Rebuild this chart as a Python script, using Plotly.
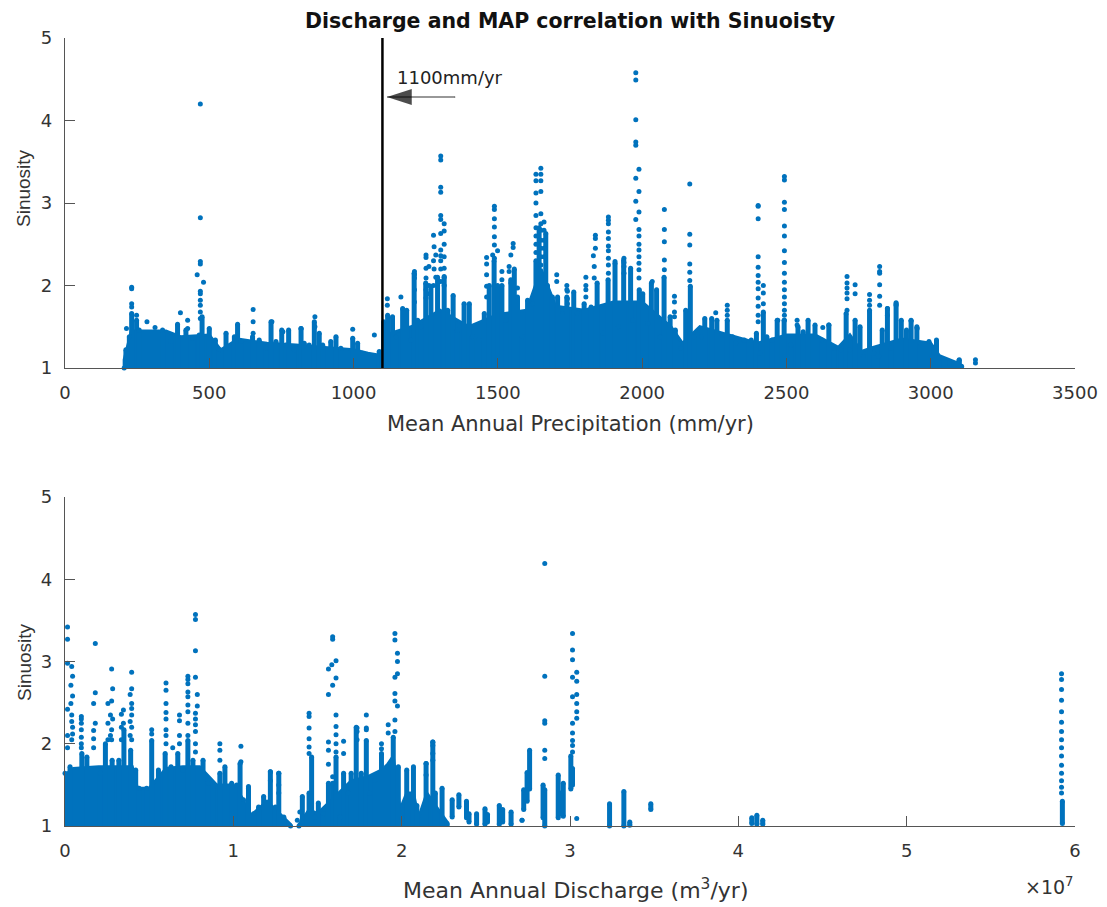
import plotly.graph_objects as go

BLUE = "#0072BD"
AXC = "#555555"
TXT = "#333333"
HELV = "Liberation Sans, Arial, sans-serif"
WIDE = "DejaVu Sans, sans-serif"

# ---------- upper panel: precipitation ----------
map_env_x = [205,211,223,231,248,257,338,367,390,419,442,465,475,500,521,535,558,587,598,610,650,673,696,714,731,751,766,775,794,818,829,846,864,881,893,921,939,956,997,1014,1031,1089,1099,
             1104,1118,1135,1147,1170,1184,1199,1210,1222,1233,1250,1268,1291,1314,1326,1345,1360,1383,1401,1412,1435,1453,1470,1487,1499,1514,1528,1545,1557,1568,1585,1603,1620,1632,1643,1666,1672,1689,1707,1724,1739,1763,1775,1799,1823,1844,1864,1882,1906,1918,1936,1960,1968,1990,2002,2020,2032,2050,2062,2076,2097,2115,2133,2151,2167,2179,2205,2217,2241,2259,2277,2295,2313,2324,2354,2378,2396,2408,2420,2432,2450,2468,2492,2516,2540,2558,2575,2599,2623,2647,2665,2689,2707,2719,2738,2755,2767,2788,2802,2820,2832,2850,2862,2880,2898,2916,2932,2952,2964,2994,3006,3020,3029,3065,3099,3107]
map_env_y = [1.0,1.22,1.38,1.66,1.58,1.46,1.46,1.32,1.53,1.46,1.36,1.4,1.62,1.48,1.34,1.22,1.42,1.38,1.53,1.32,1.38,1.34,1.24,1.56,1.32,1.46,1.28,1.46,1.22,1.48,1.3,1.28,1.56,1.42,1.28,1.32,1.38,1.24,1.36,1.3,1.18,1.2,1.16,
             1.56,1.64,1.62,1.38,1.72,1.7,1.34,2.15,1.58,1.5,2.03,1.99,2.1,2.1,1.7,1.88,1.46,1.78,1.78,1.38,1.34,1.66,2.0,2.3,2.0,2.0,1.58,2.07,2.2,1.86,1.38,1.82,1.78,2.3,2.7,2.63,2.0,1.86,1.86,1.66,1.86,1.92,1.66,1.78,1.74,2.03,1.42,2.07,2.27,1.5,2.31,2.21,1.58,1.95,1.9,1.54,2.03,1.95,1.38,2.1,1.62,1.46,1.24,1.7,1.99,1.38,1.38,1.6,1.6,1.58,1.4,1.58,1.38,1.3,1.34,1.34,1.42,1.18,1.68,1.38,1.34,1.58,1.58,1.28,1.5,1.44,1.58,1.52,1.34,1.52,1.24,1.22,1.66,1.22,1.58,1.5,1.14,1.7,1.18,1.14,1.46,1.72,1.24,1.78,1.58,1.46,1.58,1.5,1.3,1.32,1.14,1.34,1.12,1.06,1.1,1.02]

map_floor_x = [205,230,350,400,500,540,600,700,800,900,1000,1050,1100,1110,1200,1300,1400,1500,1600,1650,1700,1800,1900,2000,2100,2140,2200,2300,2400,2500,2600,2680,2720,2760,2800,2900,3000,3030,3100]
map_floor_y = [1.1,1.45,1.45,1.38,1.4,1.22,1.35,1.3,1.28,1.25,1.22,1.18,1.15,1.4,1.5,1.7,1.5,1.65,1.7,2.2,1.75,1.7,1.8,1.8,1.5,1.3,1.5,1.4,1.3,1.4,1.4,1.25,1.4,1.2,1.25,1.35,1.3,1.15,1.05]

map_spikes = [
    (469,[4.2,2.82,2.29,2.26,1.93,1.9,1.82,1.76,1.68,1.6]),(458,[2.13]),(480,[2.04]),
    (231,[1.98,1.96,1.78,1.74]),(248,[1.64]),(213,[1.48]),(284,[1.56]),(312,[1.49]),(400,[1.67]),(425,[1.58,1.48]),
    (652,[1.71,1.56,1.42]),(717,[1.56]),(755,[1.44]),(818,[1.48]),(866,[1.62,1.5]),(997,[1.47]),(1072,[1.4]),
    (1117,[1.84,1.76]),(1164,[1.86]),(1211,[2.17,2.13,2.09,1.95,1.8]),
    (1302,[3.57,3.52,3.19,3.13,2.85,2.8,2.63,2.43,2.36,2.3,2.2,2.05]),(1314,[2.75,2.66,2.5,2.35,2.21,2.11,2.0]),
    (1277,[2.61,2.3,2.0]),(1279,[2.47,2.2]),(1251,[2.37,2.34,2.21,2.09,1.95,1.85]),(1285,[2.37,2.1]),(1261,[2.23,2.0,1.9]),
    (1488,[2.96,2.92,2.81,2.71,2.59,2.49,2.33]),(1499,[2.42]),(1461,[2.34,2.26,2.13,1.99,1.86]),(1482,[2.37]),
    (1514,[2.17,2.07]),(1553,[2.51,2.46]),(1545,[2.37,2.03]),(1539,[2.23,2.17]),(1568,[1.97]),
    (1649,[3.42,3.35,3.27,3.14,2.87,2.75,2.67,2.55,2.45,2.35,2.25]),(1632,[3.35,3.27,3.12,3.0,2.85,2.7,2.6,2.5,2.4]),
    (1660,[2.77,2.67,2.55,2.45,2.35]),(1704,[2.13,2.05]),(1739,[2.0,1.95]),(1741,[1.93,1.84,1.78]),
    (1805,[2.1,2.0,1.95,1.86]),(1838,[2.61,2.57,2.45]),(1831,[2.36]),(1834,[2.23,2.09]),
    (1883,[2.83,2.79,2.75,2.65,2.57,2.48,2.42,2.33,2.25,2.15]),(1906,[2.29]),(1937,[2.33,2.28,2.23,2.15]),
    (1978,[4.58,4.49,4.01,3.74,3.7,3.3,3.02,2.8]),(1989,[3.41,3.14,2.89,2.68,2.6,2.5,2.43,2.35,2.27,2.19,2.09]),
    (2077,[2.92,2.68,2.53,2.31,2.19]),(2112,[1.87,1.8,1.68,1.62]),(2165,[3.23,2.62,2.49,2.26,2.16,2.06]),
    (2035,[2.05]),(2255,[1.67]),(2295,[1.76,1.7,1.64]),
    (2402,[2.97,2.96,2.81,2.35,2.22,2.12,2.04,1.96,1.85,1.75,1.64,1.56]),(2420,[2.0,1.91,1.78]),
    (2493,[3.32,3.28,3.01,2.92,2.72,2.6,2.42,2.28,2.15,2.04,1.95,1.86,1.78,1.7,1.64,1.58]),
    (2470,[1.58]),(2537,[1.58,1.52]),(2626,[1.49]),(2647,[1.52]),
    (2710,[2.11,2.03,1.97,1.91,1.84,1.7]),(2738,[2.01,1.9]),(2788,[1.89,1.82,1.76]),
    (2823,[2.23,2.17,2.15,2.01,1.87,1.76]),(2850,[1.72,1.64]),(2880,[1.79,1.76]),(2932,[1.57]),(2953,[1.48]),
    (3155,[1.1,1.06]),(3098,[1.09,1.06,1.03]),
]

threshold_x = [1100, 1100]
threshold_y = [1, 5]
arrow_x = [1351, 1116]
arrow_y = [4.285, 4.285]

# ---------- lower panel: discharge (x in units of 1e7) ----------
q_env_x = [0,0.03,0.10,0.13,0.21,0.24,0.28,0.32,0.35,0.39,0.42,0.44,0.485,0.515,0.555,0.595,0.63,0.67,0.70,0.73,0.76,0.82,0.85,0.88,0.92,0.95,0.99,1.02,1.04,1.06,1.09,1.12,1.15,1.18,1.22,1.25,1.27,1.30,1.34]
q_env_y = [1.64,1.72,1.88,1.84,1.64,2.0,1.8,1.8,2.17,1.92,1.68,1.46,1.46,2.04,1.68,1.88,1.72,1.88,1.68,2.04,1.8,1.8,1.52,1.48,1.64,1.72,1.52,1.5,1.76,1.32,1.48,1.15,1.23,1.36,1.66,1.23,1.64,1.11,1.0]
q_env2_x = [1.39,1.41,1.45,1.465,1.485,1.505,1.535,1.565,1.59,1.61,1.635,1.655,1.68,1.70,1.73,1.76,1.79,1.81,1.84,1.88,1.91,1.95,1.98,2.0,2.03,2.07,2.09,2.145,2.185,2.2,2.24,2.27]
q_env2_y = [1.0,1.36,1.4,1.84,1.11,1.28,1.15,1.52,1.52,1.84,1.11,1.64,1.4,1.64,2.2,1.64,2.04,1.4,1.56,1.88,1.72,2.08,1.72,1.1,1.68,1.72,1.25,1.76,2.02,1.4,1.46,1.03]

q_floor_x = [0,0.05,0.2,0.4,0.43,0.5,0.6,0.7,0.8,0.9,1.0,1.05,1.1,1.2,1.3,1.34]
q_floor_y = [1.62,1.7,1.72,1.72,1.46,1.46,1.7,1.72,1.72,1.5,1.5,1.35,1.12,1.3,1.1,1.02]
q_floor2_x = [1.39,1.45,1.5,1.6,1.7,1.8,1.9,1.95,1.99,2.03,2.07,2.1,2.15,2.2,2.27]
q_floor2_y = [1.02,1.2,1.15,1.35,1.55,1.6,1.7,1.85,1.2,1.4,1.4,1.1,1.4,1.25,1.05]

q_seg_x  = [2.30,2.34,2.385,2.40,2.445,2.495,2.51,2.58,2.60,2.65,2.715,2.725,2.76,2.745,2.85,2.84,2.93,2.96,2.945,3.005,3.015,3.235,3.32,3.355,3.48,4.08,4.11,4.145,5.925]
q_seg_lo = [1.11,1.23,1.1,1.05,1.02,1.02,1.05,1.02,1.05,1.02,1.07,1.2,1.45,1.3,1.0,1.1,1.1,1.12,1.15,1.45,1.5,1.0,1.0,1.01,1.2,1.03,1.02,1.02,1.03]
q_seg_hi = [1.32,1.38,1.3,1.15,1.15,1.21,1.14,1.25,1.2,1.17,1.07,1.44,1.92,1.65,1.44,1.5,1.62,1.52,1.4,1.85,1.7,1.27,1.42,1.05,1.27,1.1,1.13,1.07,1.3]

q_spikes = [
    (0.015,[3.42,3.27,2.98,2.42,2.1,1.95]),(0.04,[2.94,2.35,2.27,2.05]),(0.045,[2.82,2.58,2.2,2.12]),(0.035,[2.71,2.49]),
    (0.097,[2.33,2.3,2.25,2.17,2.08,2.0,1.95]),(0.18,[3.22,2.62,2.25]),(0.17,[2.49,2.16,2.06,1.95]),
    (0.277,[2.91,2.52,2.17,2.05]),(0.283,[2.67,2.3]),(0.255,[2.49,2.25,2.05]),(0.27,[2.35,2.1]),
    (0.396,[2.87,2.67,2.49,2.43,2.35,2.2,2.05]),(0.387,[2.6,2.27,2.1]),(0.347,[2.41,2.25]),(0.335,[2.36,2.2,2.05]),(0.515,[2.17,2.12]),
    (0.6,[2.74,2.65,2.49,2.38,2.3,2.17,2.1,2.0]),(0.68,[2.35,2.28,2.1,2.0]),(0.64,[1.95]),
    (0.73,[2.82,2.78,2.73,2.63,2.57,2.47,2.39,2.25,2.1]),(0.775,[3.57,3.51,3.13,2.81,2.37,2.3,2.23,2.15,2.0,1.9]),(0.786,[2.6,2.46]),
    (0.92,[2.0,1.92,1.8]),(1.045,[1.97,1.78]),(1.09,[1.46,1.4]),(1.27,[1.64,1.5,1.4]),(1.22,[1.66,1.55]),
    (1.38,[1.07]),(1.395,[1.17]),
    (1.45,[2.37,2.33,2.19,2.06,1.96,1.88]),(1.59,[3.3,3.27,2.71,1.6]),(1.61,[3.01,2.8,2.35,2.21,2.11,2.0,1.9]),
    (1.585,[2.96]),(1.565,[2.91,2.6,2.02,1.92,1.75]),(1.655,[2.03,1.88]),(1.735,[2.19,2.15,2.05]),(1.79,[2.35,2.19,2.17]),
    (1.88,[2.0,1.94]),(1.96,[3.34,3.26,2.81,2.61,2.52,2.29,2.15]),(1.975,[3.1,3.0,2.85,2.46]),(1.92,[2.23,2.13]),
    (2.185,[2.02,1.98,1.88,1.8]),(2.85,[4.19,2.82,2.28,2.25,1.92,1.82]),(2.145,[1.76,1.62]),
    (3.015,[3.34,3.14,3.02,2.81,2.57,2.25,2.13,2.04,1.98,1.9]),(3.04,[2.87,2.76,2.6,2.49,2.39,2.31,1.09]),
    (5.92,[2.85,2.78,2.66,2.53,2.39,2.26,2.15,2.05,1.95,1.85,1.74,1.64,1.55,1.47,1.4]),
]

map_ticks = [0,500,1000,1500,2000,2500,3000,3500]
q_ticks = [0,1,2,3,4,5,6]
sin_ticks = [1,2,3,4,5]


def expand(spikes):
    xs, ys = [], []
    for x0, vals in spikes:
        for v in vals:
            xs.append(x0)
            ys.append(v)
    return xs, ys


def area(x, y, xa, ya):
    return go.Scatter(x=x[:1] + x + x[-1:], y=[1] + y + [1], mode="lines", fill="toself",
                      fillcolor=BLUE, line=dict(color=BLUE, width=3),
                      xaxis=xa, yaxis=ya, showlegend=False, cliponaxis=False, hoverinfo="skip")


def base(x0, x1, xa, ya):
    return go.Scatter(x=[x0, x1], y=[1, 1], mode="lines", line=dict(color=BLUE, width=5),
                      xaxis=xa, yaxis=ya, showlegend=False, cliponaxis=False, hoverinfo="skip")


def dots(x, y, xa, ya):
    return go.Scatter(x=x, y=y, mode="markers", marker=dict(color=BLUE, size=5),
                      xaxis=xa, yaxis=ya, showlegend=False, cliponaxis=False)


def stems(x, lo, hi, xa, ya, width):
    sx, sy = [], []
    for a, b, c in zip(x, lo, hi):
        sx += [a, a, None]
        sy += [b, c, None]
    return go.Scatter(x=sx, y=sy, mode="lines", line=dict(color=BLUE, width=width),
                      xaxis=xa, yaxis=ya, showlegend=False, cliponaxis=False, hoverinfo="skip")


fig = go.Figure()
fig.add_trace(area(map_floor_x, map_floor_y, "x", "y"))
fig.add_trace(base(map_env_x[0], map_env_x[-1], "x", "y"))
fig.add_trace(stems(map_env_x, [1] * len(map_env_x), map_env_y, "x", "y", 5))
fig.add_trace(dots(map_env_x, map_env_y, "x", "y"))
fig.add_trace(dots(*expand(map_spikes), "x", "y"))
fig.add_trace(go.Scatter(x=threshold_x, y=threshold_y, mode="lines", line=dict(color="black", width=2.5),
                         xaxis="x", yaxis="y", showlegend=False))
fig.add_trace(go.Scatter(x=arrow_x, y=arrow_y, mode="lines+markers", line=dict(color="#333333", width=1.2),
                         marker=dict(symbol=["circle", "arrow"], size=[1, 26], angle=[0, -90], color="black",
                                     angleref="up", line=dict(width=0)),
                         xaxis="x", yaxis="y", showlegend=False))

fig.add_trace(area(q_floor_x, q_floor_y, "x2", "y2"))
fig.add_trace(area(q_floor2_x, q_floor2_y, "x2", "y2"))
fig.add_trace(base(q_env_x[0], q_env_x[-1], "x2", "y2"))
all_q_x = q_env_x + q_env2_x
all_q_y = q_env_y + q_env2_y
fig.add_trace(stems(all_q_x, [1] * len(all_q_x), all_q_y, "x2", "y2", 5))
fig.add_trace(dots(all_q_x, all_q_y, "x2", "y2"))
fig.add_trace(dots(*expand(q_spikes), "x2", "y2"))
fig.add_trace(stems(q_seg_x, q_seg_lo, q_seg_hi, "x2", "y2", 5))
fig.add_trace(dots(q_seg_x, q_seg_hi, "x2", "y2"))
fig.add_trace(dots(q_seg_x, q_seg_lo, "x2", "y2"))

W, H = 1107, 907
L, R, T, B = 65, 1075, 38, 826


def px(v):
    return (v - L) / (R - L)


def py(v):
    return (B - v) / (B - T)


common = dict(showgrid=False, zeroline=False, showline=True, linecolor=AXC, linewidth=1.3,
              ticks="inside", ticklen=10, tickcolor=AXC, tickwidth=1.2, automargin=False,
              ticklabelstandoff=8, tickfont=dict(family=WIDE, size=18, color=TXT))
afont = dict(family=WIDE, size=21, color=TXT)
sfont = dict(family=HELV, size=19, color=TXT)


def label(text, x, y, font, angle=0, xanchor="center"):
    return dict(text=text, xref="paper", yref="paper", x=px(x), y=py(y), showarrow=False,
                xanchor=xanchor, yanchor="middle", font=font, textangle=angle)


fig.update_layout(
    width=W, height=H, margin=dict(l=L, r=W - R, t=T, b=H - B, autoexpand=False),
    paper_bgcolor="white", plot_bgcolor="white", showlegend=False, font=dict(family=HELV),
    xaxis=dict(domain=[0, 1], range=[0, 3500], tickvals=map_ticks, anchor="y", **common),
    yaxis=dict(domain=[py(368), 1], range=[1, 5], tickvals=sin_ticks, anchor="x", **common),
    xaxis2=dict(domain=[0, 1], range=[0, 6], tickvals=q_ticks, anchor="y2", **common),
    yaxis2=dict(domain=[0, py(497)], range=[1, 5], tickvals=sin_ticks, anchor="x2", **common),
    annotations=[
        label("<b>Discharge and MAP correlation with Sinuoisty</b>", 570, 21,
              dict(family=WIDE, size=20.5, color="#111111")),
        label("Mean Annual Precipitation (mm/yr)", 570, 424, afont),
        label("Mean Annual Discharge (m<sup>3</sup>/yr)", 575, 889, dict(family=WIDE, size=22, color=TXT)),
        label("Sinuosity", 24, 188, sfont, angle=-90),
        label("Sinuosity", 24, 662, sfont, angle=-90),
        label("1100mm/yr", 395, 77, dict(family=WIDE, size=18, color="#222222"), xanchor="left"),
        label("×10<sup>7</sup>", 1076, 886, dict(family=WIDE, size=19, color=TXT), xanchor="right"),
    ],
)

fig.write_html("out.html", config=dict(displayModeBar=False), post_script="document.body.style.margin='0';")
